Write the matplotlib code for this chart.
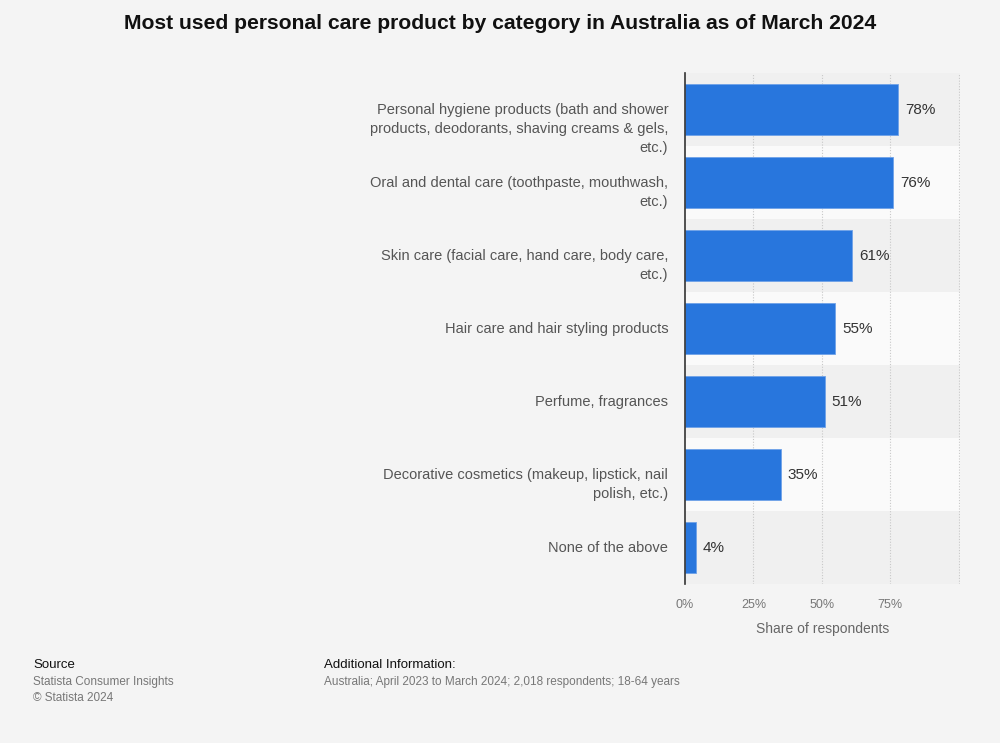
import matplotlib.pyplot as plt
from matplotlib.ticker import FixedLocator

plt.rcParams["font.family"] = ["Liberation Sans", "DejaVu Sans"]

categories = [
    "Personal hygiene products (bath and shower\nproducts, deodorants, shaving creams & gels,\netc.)",
    "Oral and dental care (toothpaste, mouthwash,\netc.)",
    "Skin care (facial care, hand care, body care,\netc.)",
    "Hair care and hair styling products",
    "Perfume, fragrances",
    "Decorative cosmetics (makeup, lipstick, nail\npolish, etc.)",
    "None of the above",
]
shares = [78, 76, 61, 55, 51, 35, 4]
tick_values = [0, 25, 50, 75]
tick_labels = ["0%", "25%", "50%", "75%"]

BG = "#f4f4f4"
BAR = "#2876dd"

fig = plt.figure(figsize=(10, 7.43), dpi=100, facecolor=BG)
ax = fig.add_axes([0.685, 0.214, 0.275, 0.6877])
ax.set_facecolor(BG)

rows = range(len(categories))
for i in rows:
    ax.axhspan(i - 0.5, i + 0.5, color="#f0f0f0" if i % 2 == 0 else "#fafafa", zorder=0, lw=0)

for x in [25, 50, 75, 100]:
    ax.axvline(x, color="#c8c8c8", lw=0.8, ls=(0, (1, 1.5)), zorder=1)

ax.barh(list(rows), shares, height=0.7, color=BAR, edgecolor="#6fa2e8", linewidth=0.6, zorder=2)
for i, v in zip(rows, shares):
    ax.text(v + 2.6, i, f"{v}%", va="center", ha="left", fontsize=11, color="#333333", zorder=3)

# category labels: first line sits on the row centre, the rest run below
for i, label in zip(rows, categories):
    ax.annotate(label, xy=(0, i), xycoords=("axes fraction", "data"),
                xytext=(-12, 4.6), textcoords="offset points",
                ha="right", va="top", fontsize=10.5, color="#555555",
                linespacing=1.45, annotation_clip=False)

ax.set_xlim(0, 100.5)
ax.set_ylim(len(categories) - 0.5, -0.5)
ax.set_yticks([])
ax.xaxis.set_major_locator(FixedLocator(tick_values))
ax.set_xticklabels(tick_labels, fontsize=9, color="#777777")
ax.tick_params(axis="both", length=0)
ax.tick_params(axis="x", pad=11)
ax.set_xlabel("Share of respondents", fontsize=10, color="#666666", labelpad=8)

for side in ["top", "right", "bottom"]:
    ax.spines[side].set_visible(False)
ax.spines["left"].set_color("#333333")
ax.spines["left"].set_linewidth(1.2)
ax.spines["left"].set_zorder(4)

fig.text(0.5, 0.968, "Most used personal care product by category in Australia as of March 2024",
         ha="center", va="center", fontsize=15.2, fontweight="bold", color="#111111")

fig.text(0.033, 0.105, "Source", fontsize=9.5, color="#111111", va="center")
fig.text(0.033, 0.082, "Statista Consumer Insights", fontsize=8.5, color="#777777", va="center")
fig.text(0.033, 0.061, "© Statista 2024", fontsize=8.5, color="#777777", va="center")
fig.text(0.324, 0.105, "Additional Information:", fontsize=9.5, color="#111111", va="center")
fig.text(0.324, 0.082, "Australia; April 2023 to March 2024; 2,018 respondents; 18-64 years",
         fontsize=8.5, color="#777777", va="center")

fig.savefig("out.png", dpi=100, facecolor=BG)
